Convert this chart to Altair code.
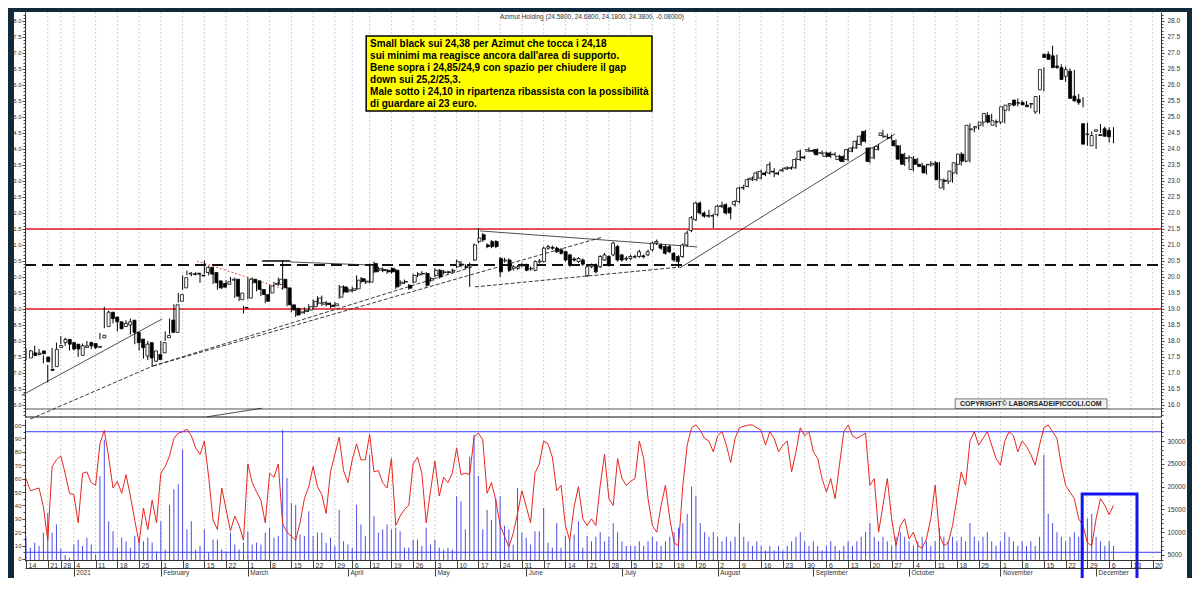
import json
import altair as alt
import pandas as pd

# ---------------- data ----------------
opens = [
    17.47, 17.63, 17.58, 17.69, 17.50, 17.12, 17.20, 17.80, 17.95, 18.05,
    17.95, 17.90, 17.55, 17.80, 17.95, 17.92, 17.80, 18.10, 18.45, 18.90,
    18.75, 18.60, 18.45, 18.50, 18.65, 18.27, 18.06, 17.53, 17.95, 17.37,
    17.58, 17.63, 18.10, 18.65, 18.27, 19.24, 19.66, 20.09, 20.10, 20.12,
    20.06, 20.14, 20.30, 20.14, 19.88, 19.80, 19.77, 19.90, 19.93, 19.29,
    19.05, 19.34, 19.93, 19.88, 19.61, 19.45, 19.50, 19.77, 19.77, 19.93,
    19.66, 19.13, 19.02, 18.88, 18.92, 18.97, 19.07, 19.18, 19.15, 19.18,
    19.12, 19.10, 19.37, 19.69, 19.56, 19.58, 19.63, 19.95, 19.84, 19.84,
    20.42, 20.21, 20.23, 20.21, 20.27, 20.21, 19.79, 19.84, 19.74, 19.84,
    20.06, 20.11, 20.11, 19.90, 20.05, 20.21, 20.14, 20.16, 20.18, 20.32,
    20.40, 20.33, 20.35, 20.53, 21.11, 21.32, 21.00, 21.11, 21.11, 20.58,
    20.50, 20.53, 20.27, 20.27, 20.35, 20.37, 20.25, 20.21, 20.47, 20.48,
    20.90, 20.92, 20.90, 20.85, 20.79, 20.69, 20.56, 20.48, 20.53, 20.05,
    20.32, 20.37, 20.32, 20.53, 20.64, 20.69, 20.95, 20.69, 20.56, 20.58,
    20.62, 20.64, 20.66, 20.69, 20.85, 21.06, 21.00, 20.95, 20.95, 20.74,
    20.64, 20.64, 21.00, 21.45, 21.79, 22.31, 22.00, 21.92, 21.90, 21.95,
    22.20, 22.26, 22.16, 22.26, 22.36, 22.78, 22.83, 23.04, 23.04, 23.09,
    23.25, 23.25, 23.30, 23.25, 23.32, 23.38, 23.41, 23.41, 23.67, 23.75,
    23.93, 23.95, 23.98, 23.87, 23.77, 23.875, 23.82, 23.67, 23.77, 23.67,
    23.93, 24.03, 24.14, 24.55, 24.03, 23.72, 23.98, 24.42, 24.38, 24.36,
    24.26, 24.10, 23.84, 23.70, 23.36, 23.68, 23.52, 23.47, 23.50, 23.50,
    23.57, 22.78, 23.02, 22.99, 23.25, 23.52, 23.84, 23.62, 24.60, 24.66,
    24.74, 24.84, 25.05, 24.74, 24.85, 24.84, 25.21, 25.37, 25.53, 25.43,
    25.45, 25.37, 25.40, 25.16, 25.85, 26.96, 26.96, 26.91, 26.59, 26.54,
    26.27, 26.43, 25.65, 25.55, 24.79, 24.45, 24.10, 24.55, 24.45, 24.63, 24.58,
]
closes = [
    17.69, 17.55, 17.62, 17.60, 17.35, 17.08, 17.74, 17.86, 18.05, 17.90,
    17.75, 17.75, 17.85, 17.85, 17.85, 17.80, 17.83, 18.18, 18.90, 18.70,
    18.60, 18.38, 18.55, 18.60, 18.27, 17.95, 17.79, 17.90, 17.47, 17.69,
    17.42, 17.95, 18.17, 18.27, 19.13, 19.45, 19.98, 20.12, 20.08, 20.09,
    20.03, 20.30, 20.09, 19.82, 19.66, 19.68, 19.85, 19.93, 19.40, 19.50,
    19.03, 19.93, 19.82, 19.61, 19.45, 19.24, 19.72, 19.80, 19.93, 19.66,
    19.13, 18.97, 18.81, 18.91, 18.95, 19.07, 19.24, 19.34, 19.20, 19.14,
    19.08, 19.16, 19.69, 19.53, 19.60, 19.63, 19.90, 19.86, 19.87, 20.37,
    20.16, 20.26, 20.20, 20.16, 20.16, 19.69, 19.84, 19.86, 19.65, 20.05,
    20.10, 20.10, 19.74, 19.95, 20.21, 20.00, 20.16, 20.14, 20.21, 20.48,
    20.37, 20.30, 20.38, 21.00, 21.22, 21.16, 20.95, 20.95, 20.95, 20.16,
    20.53, 20.21, 20.32, 20.32, 20.37, 20.21, 20.27, 20.48, 20.50, 20.90,
    20.95, 20.90, 20.79, 20.74, 20.53, 20.37, 20.53, 20.58, 20.40, 20.32,
    20.37, 20.16, 20.64, 20.69, 20.37, 21.06, 20.53, 20.53, 20.58, 20.64,
    20.64, 20.79, 20.63, 20.79, 21.06, 21.11, 20.90, 20.74, 20.79, 20.53,
    20.48, 21.00, 21.37, 21.85, 22.31, 22.00, 21.90, 21.90, 21.92, 22.21,
    22.23, 22.00, 22.00, 22.36, 22.78, 22.80, 23.04, 23.09, 23.25, 23.30,
    23.20, 23.51, 23.28, 23.22, 23.35, 23.41, 23.40, 23.67, 23.93, 23.72,
    23.98, 23.93, 23.82, 23.88, 23.875, 23.77, 23.84, 23.77, 23.61, 23.98,
    24.03, 24.24, 24.40, 24.24, 23.61, 24.03, 24.08, 24.50, 24.40, 24.34,
    24.10, 23.68, 23.52, 23.73, 23.73, 23.52, 23.45, 23.25, 23.52, 23.55,
    23.04, 23.04, 22.99, 23.31, 23.57, 23.84, 23.62, 24.74, 24.63, 24.70,
    24.84, 25.11, 24.84, 24.88, 24.84, 25.32, 25.37, 25.42, 25.37, 25.45,
    25.38, 25.32, 25.42, 25.64, 26.48, 26.86, 26.80, 26.54, 26.55, 26.17,
    26.48, 25.58, 25.50, 25.45, 24.15, 24.47, 24.42, 24.60, 24.42, 24.40, 24.38,
]
highs = [
    17.78, 17.72, 17.85, 17.75, 17.55, 17.25, 17.78, 17.95, 18.15, 18.10,
    18.00, 17.95, 17.90, 17.92, 18.00, 17.98, 17.90, 18.25, 19.07, 18.95,
    18.80, 18.65, 18.60, 18.65, 18.70, 18.30, 18.10, 17.95, 18.00, 17.75,
    17.62, 18.00, 18.30, 18.70, 19.15, 19.50, 20.05, 20.20, 20.15, 20.15,
    20.10, 20.52, 20.35, 20.18, 19.90, 19.85, 19.90, 20.00, 19.98, 19.55,
    19.10, 19.98, 19.98, 19.92, 19.65, 19.50, 19.75, 19.85, 19.98, 20.52,
    19.70, 19.18, 19.05, 19.00, 19.05, 19.15, 19.30, 19.40, 19.42, 19.25,
    19.20, 19.22, 19.75, 19.74, 19.66, 19.70, 20.05, 20.00, 19.95, 20.42,
    20.48, 20.32, 20.30, 20.25, 20.30, 20.25, 19.90, 19.92, 19.78, 20.10,
    20.15, 20.18, 20.15, 20.00, 20.27, 20.25, 20.22, 20.20, 20.26, 20.55,
    20.50, 20.40, 20.45, 21.05, 21.53, 21.37, 21.05, 21.15, 21.15, 20.62,
    20.60, 20.58, 20.37, 20.37, 20.45, 20.42, 20.33, 20.52, 20.56, 20.95,
    21.00, 20.98, 20.95, 20.90, 20.82, 20.72, 20.62, 20.62, 20.58, 20.37,
    20.42, 20.42, 20.68, 20.75, 20.68, 21.10, 21.00, 20.72, 20.65, 20.70,
    20.70, 20.85, 20.70, 20.85, 21.10, 21.17, 21.05, 21.00, 21.00, 20.78,
    20.68, 21.05, 21.45, 21.90, 22.35, 22.36, 22.05, 22.10, 21.98, 22.26,
    22.35, 22.30, 22.20, 22.40, 22.82, 22.88, 23.10, 23.14, 23.30, 23.35,
    23.30, 23.60, 23.40, 23.30, 23.42, 23.46, 23.46, 23.72, 23.98, 23.80,
    24.05, 24.00, 24.02, 23.95, 23.92, 23.92, 23.90, 23.82, 23.80, 24.02,
    24.08, 24.28, 24.45, 24.60, 24.06, 24.08, 24.15, 24.60, 24.48, 24.45,
    24.30, 24.12, 23.88, 23.80, 23.78, 23.72, 23.57, 23.50, 23.62, 23.62,
    23.60, 23.08, 23.08, 23.35, 23.62, 23.90, 23.88, 24.80, 24.70, 24.78,
    24.90, 25.15, 25.10, 24.92, 24.90, 25.36, 25.42, 25.47, 25.58, 25.52,
    25.50, 25.42, 25.48, 25.68, 26.55, 27.05, 27.23, 26.95, 26.65, 26.58,
    26.52, 26.47, 25.72, 25.62, 24.82, 24.55, 24.47, 24.78, 24.70, 24.68, 24.68,
]
lows = [
    17.40, 17.50, 17.52, 17.55, 17.30, 16.70, 17.15, 17.75, 17.90, 17.85,
    17.70, 17.70, 17.50, 17.75, 17.80, 17.75, 17.75, 18.05, 18.40, 18.65,
    18.55, 18.30, 18.40, 18.45, 18.20, 17.90, 17.70, 17.45, 17.40, 17.20,
    17.35, 17.60, 18.00, 18.20, 18.25, 19.20, 19.60, 20.05, 20.02, 20.05,
    19.82, 20.10, 20.05, 19.78, 19.60, 19.62, 19.72, 19.85, 19.35, 19.25,
    18.86, 19.30, 19.78, 19.55, 19.40, 19.18, 19.45, 19.72, 19.72, 19.60,
    19.08, 18.90, 18.75, 18.82, 18.85, 18.92, 19.00, 19.10, 19.10, 19.08,
    19.02, 19.05, 19.32, 19.48, 19.50, 19.52, 19.60, 19.80, 19.78, 19.80,
    20.12, 20.15, 20.15, 20.10, 20.10, 19.63, 19.72, 19.78, 19.60, 19.80,
    20.00, 20.05, 19.70, 19.85, 20.00, 19.95, 20.08, 20.10, 20.12, 20.28,
    20.30, 20.25, 19.69, 20.50, 21.05, 21.10, 20.90, 20.90, 20.90, 20.00,
    20.45, 20.15, 20.20, 20.22, 20.30, 20.18, 20.20, 20.18, 20.42, 20.45,
    20.85, 20.85, 20.75, 20.70, 20.48, 20.32, 20.48, 20.44, 20.35, 20.00,
    20.28, 20.12, 20.28, 20.50, 20.32, 20.65, 20.48, 20.48, 20.50, 20.52,
    20.58, 20.60, 20.58, 20.65, 20.80, 21.00, 20.85, 20.70, 20.74, 20.48,
    20.30, 20.60, 20.95, 21.40, 21.75, 21.95, 21.85, 21.85, 21.53, 21.90,
    22.15, 21.95, 21.80, 22.20, 22.30, 22.72, 22.80, 23.00, 23.00, 23.05,
    23.15, 23.20, 23.12, 23.18, 23.28, 23.34, 23.35, 23.38, 23.62, 23.68,
    23.90, 23.88, 23.80, 23.82, 23.74, 23.72, 23.77, 23.62, 23.58, 23.62,
    23.90, 24.00, 24.10, 24.20, 23.55, 23.68, 23.95, 24.35, 24.30, 24.28,
    24.05, 23.62, 23.47, 23.60, 23.30, 23.48, 23.40, 23.20, 23.45, 23.45,
    22.98, 22.72, 22.90, 22.95, 23.20, 23.48, 23.58, 23.58, 24.52, 24.60,
    24.70, 24.80, 24.80, 24.68, 24.78, 24.80, 25.18, 25.33, 25.33, 25.38,
    25.33, 25.27, 25.10, 25.10, 25.80, 26.80, 26.75, 26.50, 26.45, 26.10,
    26.22, 25.52, 25.38, 25.30, 24.10, 24.38, 24.00, 24.50, 24.38, 24.20, 24.18,
]
oscillator = [
    60, 51, 52, 53, 39, 14, 69, 74, 77, 64,
    49, 48, 27, 64, 65, 57, 55, 86, 96, 76,
    53, 58, 49, 63, 47, 29, 12, 38, 22, 44,
    27, 64, 69, 77, 90, 94, 95, 97, 92, 83,
    78, 88, 61, 29, 22, 53, 37, 21, 32, 25,
    14, 71, 57, 50, 44, 27, 64, 61, 71, 26,
    20, 17, 14, 27, 45, 54, 69, 54, 48, 34,
    65, 78, 91, 66, 57, 74, 86, 74, 74, 93,
    65, 66, 57, 53, 75, 25, 32, 37, 40, 71,
    76, 64, 27, 51, 73, 47, 61, 57, 64, 83,
    63, 64, 63, 91, 94, 89, 49, 57, 44, 25,
    17, 9, 19, 34, 51, 39, 27, 64, 71, 88,
    86, 76, 51, 55, 25, 14, 39, 54, 30, 25,
    30, 25, 55, 78, 45, 40, 75, 60, 55, 58,
    60, 88, 75, 45, 25, 20, 40, 55, 30, 12,
    10, 55, 85, 98, 100, 96, 90, 88, 80, 92,
    95, 85, 72, 90, 98, 99, 100, 100, 98, 96,
    85, 95, 90, 80, 85, 88, 65, 80, 98, 92,
    95, 80, 75, 60, 50, 60, 45, 70, 95, 100,
    92, 90, 92, 94, 55, 60, 20, 40, 60, 30,
    10, 25, 30, 15, 20, 10, 8, 15, 30, 55,
    18, 10, 12, 25, 45, 65, 55, 88, 95, 85,
    90, 95, 85, 75, 70, 88, 95, 92, 80, 88,
    84, 78, 70, 85, 98, 100, 95, 90, 70, 55,
    50, 45, 30, 25, 12, 10, 30, 45, 40, 33, 40,
]
volume = [
    8800, 6600, 7700, 7000, 9900, 14200, 9900, 11700, 6400, 5000,
    4400, 7300, 8400, 7000, 8800, 7300, 5100, 22300, 30300, 12400,
    10200, 6600, 8800, 8000, 6600, 9200, 8000, 8000, 8800, 7700,
    5800, 12400, 6200, 16000, 19400, 20500, 28100, 10600, 12400, 6200,
    7000, 10600, 5500, 8400, 8400, 6200, 5800, 9900, 7300, 6200,
    7700, 10200, 7300, 7700, 7300, 9900, 11000, 8800, 9200, 32500,
    21900, 16400, 16000, 9500, 9200, 14600, 9200, 9900, 9900, 7700,
    8800, 7000, 14900, 8000, 7300, 6600, 16000, 11700, 9200, 27000,
    13500, 9900, 10600, 11700, 10600, 11000, 10200, 6600, 6600, 8400,
    8400, 7000, 11000, 7300, 8400, 6600, 6200, 6600, 6200, 17900,
    16800, 10600, 26600, 31400, 22300, 10600, 14900, 12700, 17500, 17900,
    11400, 10600, 7300, 19700, 9900, 8800, 7300, 10200, 10200, 15300,
    7700, 6600, 12000, 6600, 9200, 8400, 9500, 12400, 6600, 9200,
    8000, 9000, 10000, 8000, 9000, 12000, 10000, 8000, 7000, 7000,
    7000, 8000, 7000, 8000, 9000, 8000, 7000, 8000, 9000, 10000,
    11000, 12000, 14000, 20000, 18000, 12000, 10000, 9000, 10000, 9000,
    8000, 9000, 8000, 9000, 12000, 9000, 8000, 7000, 8000, 7000,
    6000, 7000, 6000, 7000, 6000, 7000, 8000, 9000, 10000, 8000,
    7000, 8000, 7000, 6000, 7000, 8000, 7000, 6000, 7000, 8000,
    7000, 8000, 9000, 10000, 12000, 9000, 8000, 9000, 8000, 7000,
    9000, 10000, 9000, 8000, 7000, 8000, 9000, 8000, 7000, 8000,
    11000, 9000, 8000, 9000, 8000, 9000, 8000, 12000, 9000, 8000,
    9000, 10000, 8000, 7000, 8000, 10000, 9000, 8000, 7000, 8000,
    7000, 8000, 7000, 9000, 27000, 14000, 12000, 10000, 9000, 8000,
    9000, 10000, 9000, 8000, 13000, 14000, 9000, 8000, 7000, 8000, 7000,
]

# axis ticks (trading-day index of each week start / month start)
week_idx = [0, 5, 8, 11, 16, 21, 26, 31, 36, 41, 46, 51, 56, 61, 66, 71, 75, 79, 84, 89,
            94, 99, 104, 109, 114, 119, 124, 129, 134, 139, 144, 149, 154, 159, 164, 169,
            174, 179, 184, 189, 194, 199, 204, 209, 214, 219, 224, 229, 234, 239, 244,
            249, 254, 259]
week_labels = ["14", "21", "28", "4", "11", "18", "25", "1", "8", "15", "22", "1", "8", "15",
               "22", "29", "6", "12", "19", "26", "3", "10", "17", "24", "31", "7", "14", "21",
               "28", "5", "12", "19", "26", "2", "9", "16", "23", "30", "6", "13", "20", "27",
               "4", "11", "18", "25", "1", "8", "15", "22", "29", "6", "13", "20"]
month_idx = [11, 31, 51, 74, 94, 115, 137, 159, 181, 203, 224, 246]
month_labels = ["2021", "February", "March", "April", "May", "June", "July", "August",
                "September", "October", "November", "December"]

# horizontal levels
red_levels = [21.5, 19.0]
dash_levels = [20.375]
osc_levels = [95, 5]

# trend lines: (x1, y1, x2, y2)
solid_lines = [(-1.0, 16.3, 31.3, 18.69), (150.3, 20.28, 199.8, 24.47),
               (104.4, 21.44, 154.3, 20.94), (41.6, 15.63, 54.3, 15.9),
               (60.7, 20.47, 80.2, 20.37)]
dashed_lines = [(1.0, 15.56, 29.2, 17.22), (29.2, 17.22, 132.6, 21.25),
                (29.2, 17.22, 102.5, 20.31), (103.2, 19.69, 150.3, 20.31)]
thick_lines = [(54.3, 20.5, 60.7, 20.5)]
red_dotted = [(39.3, 20.5, 59.1, 19.63)]

title_text = "Azimut Holding (24.5800, 24.6800, 24.1800, 24.3800, -0.08000)"
note_lines = [
    "Small black sui 24,38 per Azimut che tocca i 24,18",
    "sui minimi ma reagisce ancora dall'area di supporto.",
    "Bene sopra i 24,85/24,9 con spazio per chiudere il gap",
    "down sui 25,2/25,3.",
    "Male sotto i 24,10 in ripartenza ribassista con la possibilità",
    "di guardare ai 23 euro.",
]
note_y = [27.28, 26.91, 26.53, 26.16, 25.78, 25.41]
note_box = (78.2, 27.53, 143.9, 25.19)
copyright_text = "COPYRIGHT\u00a9 LABORSADEIPICCOLI.COM"
highlight_box = (242.8, 48.5, 255.4)

# ---------------- chart ----------------
FONT = "Liberation Sans"
W, H = 1136, 548
X_DOM = [-0.23, 260.92]
P_DOM, P_RNG = [15.625, 28.28], [405, 0]
O_DOM, O_RNG = [-1.5, 104.5], [549, 407]
V_DOM, V_RNG = [3684, 34825], [549, 407]


def sc(dom, rng=None):
    if rng is None:
        return alt.Scale(domain=dom, nice=False, zero=False)
    return alt.Scale(domain=dom, range=rng, nice=False, zero=False)


def X(f, axis=None):
    return alt.X(f, type="quantitative", scale=sc(X_DOM), axis=axis)


def YP(f, axis=None):
    return alt.Y(f, type="quantitative", scale=sc(P_DOM, P_RNG), axis=axis)


def YO(f, axis=None):
    return alt.Y(f, type="quantitative", scale=sc(O_DOM, O_RNG), axis=axis)


def YV(f, axis=None):
    return alt.Y(f, type="quantitative", scale=sc(V_DOM, V_RNG), axis=axis)


df = pd.DataFrame({"i": list(range(len(closes))), "o": opens, "h": highs, "l": lows,
                   "c": closes, "k": oscillator, "v": volume})
one = pd.DataFrame({"i": [100], "p": [20.0], "q": [50], "v": [10000]})
weeks = pd.DataFrame({"i": week_idx})


def seg_df(rows):
    return pd.DataFrame(rows, columns=["x1", "y1", "x2", "y2"])


layers = []

layers.append(alt.Chart(one).mark_rect(fill="white").encode(
    x=alt.value(-11), x2=alt.value(1162), y=alt.value(0), y2=alt.value(570)))

layers.append(alt.Chart(weeks).mark_rule(color="#c4c4c4", strokeDash=[2, 2], strokeWidth=0.8).encode(
    x=X("i"), y=alt.value(0), y2=alt.value(H)))

# separators
layers.append(alt.Chart(pd.DataFrame({"p": [15.875]})).mark_rule(color="#555555", strokeWidth=1).encode(
    y=YP("p"), x=alt.value(0), x2=alt.value(W)))
layers.append(alt.Chart(pd.DataFrame({"p": [15.625]})).mark_rule(color="#111111", strokeWidth=1.2).encode(
    y=YP("p"), x=alt.value(0), x2=alt.value(W)))

# levels
layers.append(alt.Chart(pd.DataFrame({"p": red_levels})).mark_rule(color="#e0141e", strokeWidth=1.3).encode(
    y=YP("p"), x=alt.value(0), x2=alt.value(W)))
layers.append(alt.Chart(pd.DataFrame({"p": dash_levels})).mark_rule(
    color="#111111", strokeWidth=1.8, strokeDash=[11, 6]).encode(
    y=YP("p"), x=alt.value(0), x2=alt.value(W)))
layers.append(alt.Chart(pd.DataFrame({"q": osc_levels})).mark_rule(color="#3b3bff", strokeWidth=1).encode(
    y=YO("q"), x=alt.value(0), x2=alt.value(W)))

# trend lines
for rows, kw in [(solid_lines, dict(color="#222222", strokeWidth=0.8)),
                 (dashed_lines, dict(color="#222222", strokeWidth=0.9, strokeDash=[4, 2])),
                 (thick_lines, dict(color="#111111", strokeWidth=1.6)),
                 (red_dotted, dict(color="#e2553a", strokeWidth=1, strokeDash=[2, 2]))]:
    layers.append(alt.Chart(seg_df(rows)).mark_rule(**kw).encode(
        x=X("x1"), x2=alt.X2("x2"), y=YP("y1"), y2=alt.Y2("y2")))

# volume + oscillator
layers.append(alt.Chart(df).mark_rule(color="#4d4de6", strokeWidth=1).encode(
    x=X("i"), y=YV("v"), y2=alt.value(H)))
layers.append(alt.Chart(df).mark_line(color="#e8251f", strokeWidth=1).encode(
    x=X("i"), y=YO("k")))

# candles
layers.append(alt.Chart(df).mark_rule(color="black", strokeWidth=1).encode(
    x=X("i"), y=YP("l"), y2=alt.Y2("h")))
layers.append(alt.Chart(df).mark_bar(size=3, stroke="black", strokeWidth=0.8).encode(
    x=X("i"), y=YP("o"), y2=alt.Y2("c"),
    fill=alt.condition("datum.c >= datum.o", alt.value("white"), alt.value("black"))))

# title
layers.append(alt.Chart(pd.DataFrame({"x": [130.1], "y": [28.125], "t": [title_text]})).mark_text(
    font=FONT, fontSize=6.5, color="#333333", align="center", baseline="middle").encode(
    x=X("x"), y=YP("y"), text="t:N"))

# yellow note
nb = note_box
layers.append(alt.Chart(pd.DataFrame({"x1": [nb[0]], "y1": [nb[1]], "x2": [nb[2]], "y2": [nb[3]]})).mark_rect(
    fill="#ffff00", stroke="black", strokeWidth=1.5).encode(
    x=X("x1"), x2=alt.X2("x2"), y=YP("y1"), y2=alt.Y2("y2")))
layers.append(alt.Chart(pd.DataFrame({"x": [79.1] * len(note_lines), "y": note_y, "t": note_lines})).mark_text(
    font=FONT, fontSize=10, fontWeight="bold", color="black", align="left", baseline="middle").encode(
    x=X("x"), y=YP("y"), text="t:N"))

# copyright
layers.append(alt.Chart(pd.DataFrame({"x1": [213.6], "y1": [16.19], "x2": [248.5], "y2": [15.89]})).mark_rect(
    fill="#f2f2f2", stroke="#555555", strokeWidth=0.8).encode(
    x=X("x1"), x2=alt.X2("x2"), y=YP("y1"), y2=alt.Y2("y2")))
layers.append(alt.Chart(pd.DataFrame({"x": [231.0], "y": [16.04], "t": [copyright_text]})).mark_text(
    font=FONT, fontSize=7, fontWeight="bold", color="#222222", align="center", baseline="middle").encode(
    x=X("x"), y=YP("y"), text="t:N"))

# ---- axes (invisible carrier marks) ----
AX = dict(labelFont=FONT, labelColor="#333333", tickColor="#444444", domainColor="#333333",
          title=None, grid=False, zindex=1, labelOverlap=False, labelFlush=False)

day_expr = "%s[indexof(%s, datum.value)]" % (json.dumps(week_labels), json.dumps(week_idx))
mon_expr = "%s[indexof(%s, datum.value)]" % (json.dumps(month_labels), json.dumps(month_idx))

layers.append(alt.Chart(one).mark_point(opacity=0).encode(x=X("i", alt.Axis(
    orient="bottom", values=week_idx, labelExpr=day_expr, tickSize=8, labelPadding=-7,
    labelAlign="left", labelBaseline="top", labelOffset=2, labelFontSize=7, **AX))))
layers.append(alt.Chart(one).mark_point(opacity=0).encode(x=X("i", alt.Axis(
    orient="bottom", offset=8, values=month_idx, labelExpr=mon_expr, tickSize=8, labelPadding=-7,
    labelAlign="left", labelBaseline="top", labelOffset=2, labelFontSize=6.5, **AX))))

p_major = [16.0 + 0.5 * k for k in range(25)]
p_minor = [round(15.7 + 0.1 * k, 1) for k in range(126)]
o_major = list(range(0, 101, 10))
o_minor = list(range(0, 101, 5))
v_major = [5000, 10000, 15000, 20000, 25000, 30000]
v_minor = list(range(4000, 34001, 1000))

layers.append(alt.Chart(one).mark_point(opacity=0).encode(y=YP("p", alt.Axis(
    orient="left", values=p_major, format=".1f", tickSize=3, labelPadding=1,
    labelFontSize=6, **AX))))
layers.append(alt.Chart(one).mark_point(opacity=0).encode(y=YP("p", alt.Axis(
    orient="right", values=p_major, format=".1f", tickSize=3, labelPadding=3,
    labelFontSize=6.5, **AX))))
for orient in ["left", "right"]:
    layers.append(alt.Chart(one).mark_point(opacity=0).encode(y=YP("p", alt.Axis(
        orient=orient, values=p_minor, tickSize=2, labels=False, domain=False, **AX))))

layers.append(alt.Chart(one).mark_point(opacity=0).encode(y=YO("q", alt.Axis(
    orient="left", values=o_major, format="d", tickSize=3, labelPadding=1, labelFontSize=6, **AX))))
layers.append(alt.Chart(one).mark_point(opacity=0).encode(y=YO("q", alt.Axis(
    orient="left", values=o_minor, tickSize=2, labels=False, domain=False, **AX))))
layers.append(alt.Chart(one).mark_point(opacity=0).encode(y=YV("v", alt.Axis(
    orient="right", values=v_major, format="d", tickSize=3, labelPadding=3, labelFontSize=6.5, **AX))))
layers.append(alt.Chart(one).mark_point(opacity=0).encode(y=YV("v", alt.Axis(
    orient="right", values=v_minor, tickSize=2, labels=False, domain=False, **AX))))

# blue highlight box (drawn last)
hb = highlight_box
layers.append(alt.Chart(pd.DataFrame({"x1": [hb[0]], "y1": [hb[1]], "x2": [hb[2]]})).mark_rect(
    fillOpacity=0, stroke="#1414f0", strokeWidth=3).encode(
    x=X("x1"), x2=alt.X2("x2"), y=YO("y1"), y2=alt.value(576)))

chart = alt.layer(*layers).resolve_scale(x="independent", y="independent").properties(
    width=W, height=H,
    padding={"left": 17, "top": 4, "right": 31, "bottom": 18},
    autosize=alt.AutoSizeParams(type="none"),
    background="#10293b",
).configure_view(strokeWidth=0)

chart.save("out.html", embed_options={"renderer": "svg", "actions": False})
